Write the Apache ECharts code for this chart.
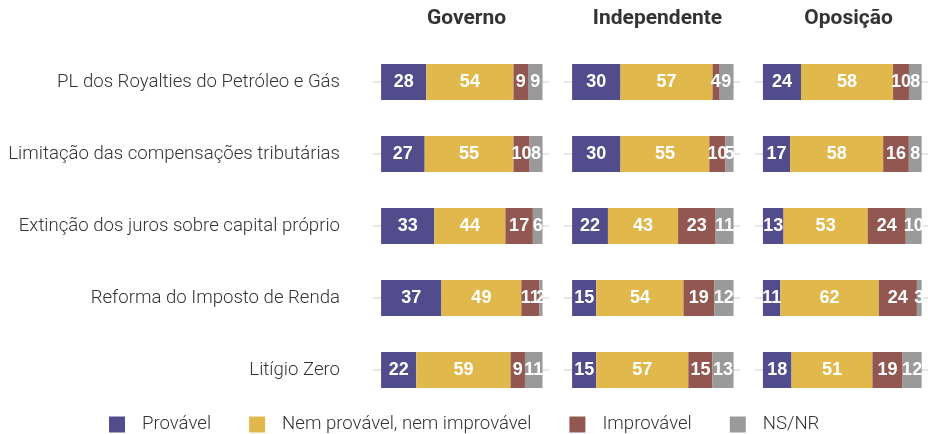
<!DOCTYPE html>
<html>
<head>
<meta charset="utf-8">
<script src="https://cdn.jsdelivr.net/npm/echarts@6/dist/echarts.min.js"></script>
<style>
  html, body { margin: 0; padding: 0; background: #fff; }
  #chart { width: 928px; height: 434px; }
</style>
</head>
<body>
<div id="chart"></div>
<script>
const categories = [
  'PL dos Royalties do Petróleo e Gás',
  'Limitação das compensações tributárias',
  'Extinção dos juros sobre capital próprio',
  'Reforma do Imposto de Renda',
  'Litígio Zero'
];
const groups = ['Governo', 'Independente', 'Oposição'];
const seriesNames = ['Provável', 'Nem provável, nem improvável', 'Improvável', 'NS/NR'];
const colors = ['#524b8c', '#e0b84c', '#935752', '#9a9a9a'];

// one row per group (Governo, Independente, Oposição), one value per category
const provavel = [[28, 27, 33, 37, 22], [30, 30, 22, 15, 15], [24, 17, 13, 11, 18]];
const nemNem = [[54, 55, 44, 49, 59], [57, 55, 43, 54, 57], [58, 58, 53, 62, 51]];
const improvavel = [[9, 10, 17, 11, 9], [4, 10, 23, 19, 15], [10, 16, 24, 24, 19]];
const nsnr = [[9, 8, 6, 2, 11], [9, 5, 11, 12, 13], [8, 8, 10, 3, 12]];

const valueSets = [provavel, nemNem, improvavel, nsnr];
const gridLefts = [373, 564, 755];
const gridWidth = 176;

const chart = echarts.init(document.getElementById('chart'));

const grids = [], xAxes = [], yAxes = [], titles = [], series = [];

groups.forEach((g, gi) => {
  grids.push({ left: gridLefts[gi], top: 82, width: gridWidth, height: 288 });
  titles.push({
    text: g,
    left: gridLefts[gi] + 8 + 80.5,
    top: 3,
    textAlign: 'center',
    textStyle: { fontFamily: 'Roboto', fontWeight: 'bold', fontSize: 21, color: '#333' }
  });
  xAxes.push({ gridIndex: gi, type: 'value', min: -5, max: 104, show: false });
  yAxes.push({
    gridIndex: gi,
    type: 'category',
    data: categories,
    inverse: true,
    boundaryGap: false,
    axisLine: { show: false },
    axisTick: { show: false },
    axisLabel: {
      show: gi === 0,
      margin: 33,
      fontFamily: 'Roboto',
      fontWeight: 300,
      fontSize: 18.6,
      color: '#333'
    },
    splitLine: { show: true, lineStyle: { color: '#e6e6e6', width: 2 } }
  });
  const totals = categories.map((c, ci) => valueSets.reduce((s, vs) => s + vs[gi][ci], 0));
  seriesNames.forEach((name, si) => {
    series.push({
      name: name,
      type: 'bar',
      xAxisIndex: gi,
      yAxisIndex: gi,
      stack: 'g' + gi,
      barWidth: 36,
      itemStyle: { color: colors[si] },
      data: valueSets[si][gi].map((v, ci) => ({ value: v / totals[ci] * 100, raw: v })),
      label: {
        show: true,
        position: 'inside',
        formatter: p => p.data.raw,
        color: '#fff',
        fontFamily: 'Liberation Sans',
        fontWeight: 'bold',
        fontSize: 18
      },
      emphasis: { disabled: true }
    });
  });
});

chart.setOption({
  animation: false,
  title: titles,
  grid: grids,
  xAxis: xAxes,
  yAxis: yAxes,
  legend: {
    data: seriesNames,
    left: 104,
    top: 410,
    itemWidth: 16,
    itemHeight: 16,
    itemGap: 38,
    icon: 'rect',
    textStyle: { fontFamily: 'Roboto', fontWeight: 300, fontSize: 18.6, color: '#333', padding: [0, 0, 0, 12] }
  },
  series: series
});
</script>
</body>
</html>
